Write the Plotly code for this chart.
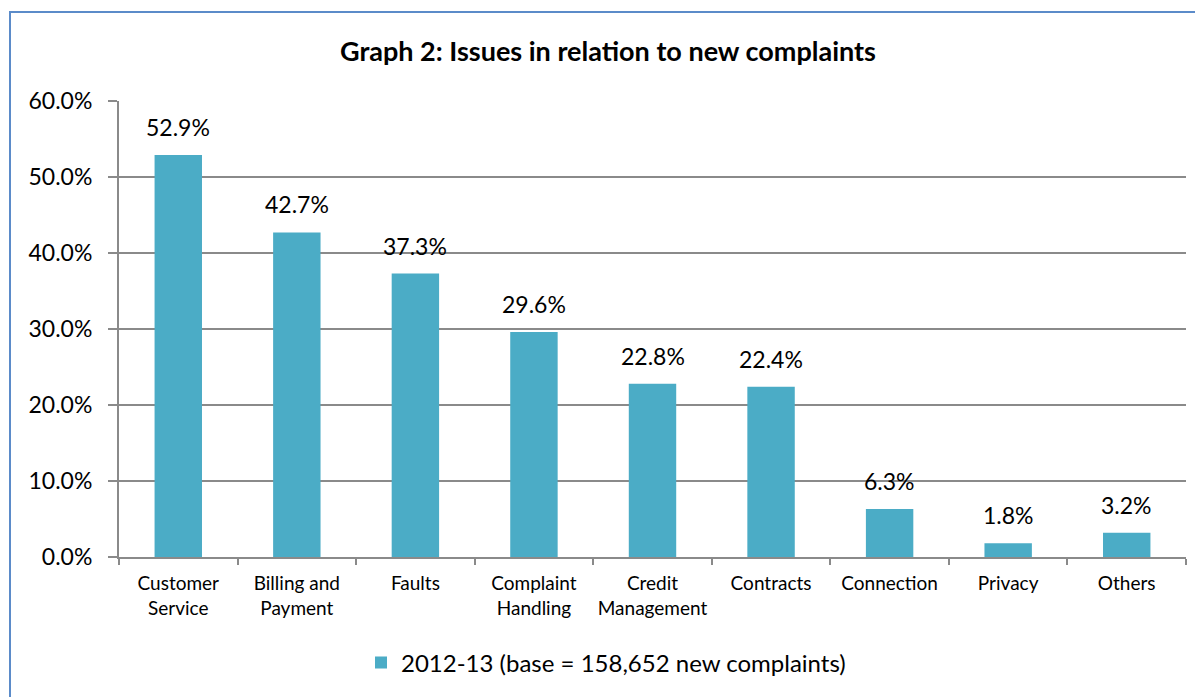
import plotly.graph_objects as go

categories = ["Customer<br>Service", "Billing and<br>Payment", "Faults", "Complaint<br>Handling",
              "Credit<br>Management", "Contracts", "Connection", "Privacy", "Others"]
values = [52.9, 42.7, 37.3, 29.6, 22.8, 22.4, 6.3, 1.8, 3.2]
series_name = "2012-13 (base = 158,652 new complaints)"
title_text = "<b>Graph 2: Issues in relation to new complaints</b>"
y_ticks = [0, 10, 20, 30, 40, 50, 60]

FONT = "Lato"
BAR = "#4BACC6"
GRID = "#8a8a8a"

# page is offset by 8px body margin
OFF = 8
PX0, PX1, PY0, PY1 = 119, 1186, 101, 557  # plot area in page coords
W, H = 1203 - OFF, 697 - OFF
L, T = PX0 - OFF, PY0 - OFF
R, B = 1203 - PX1, 697 - PY1
pw, ph = PX1 - PX0, PY1 - PY0


def px(x):
    return (x - PX0) / pw


def py(y):
    return (PY1 - y) / ph


fig = go.Figure()
fig.add_trace(go.Bar(x=categories, y=values, name=series_name, marker_color=BAR,
                     marker_line_width=0, showlegend=True))

for c, v in zip(categories, values):
    fig.add_annotation(x=c, y=v, text=f"{v:.1f}%", showarrow=False, yanchor="bottom",
                       yshift=12, font=dict(family=FONT, size=23, color="#000"))

fig.add_shape(type="rect", xref="paper", yref="paper",
              x0=px(10), x1=px(1215), y0=py(720), y1=py(12),
              line=dict(color="#5B8BC9", width=2), fillcolor="rgba(0,0,0,0)", layer="below")

fig.update_layout(
    width=W, height=H,
    margin=dict(l=L, r=R, t=T, b=B),
    paper_bgcolor="white", plot_bgcolor="white",
    font=dict(family=FONT, color="#000"),
    title=dict(text=title_text, x=(608 - OFF) / W, xanchor="center",
               y=1 - (52 - OFF) / H, yanchor="middle",
               font=dict(family=FONT, size=27, color="#000")),
    bargap=0.6,
    showlegend=True,
    legend=dict(orientation="h", x=px(361), xanchor="left", y=py(663), yanchor="middle",
                font=dict(family=FONT, size=24, color="#000")),
    xaxis=dict(showline=True, linecolor=GRID, linewidth=2, ticks="outside", tickson="boundaries",
               ticklen=6, tickcolor=GRID, tickwidth=2, ticklabelstandoff=8, tickangle=0,
               tickfont=dict(family=FONT, size=19, color="#000"), showgrid=False),
    yaxis=dict(range=[0, 60], tickvals=y_ticks, ticktext=[f"{t:.1f}%" for t in y_ticks],
               showline=True, linecolor=GRID, linewidth=2, ticks="outside", ticklen=9,
               tickcolor=GRID, tickwidth=2, showgrid=True, gridcolor=GRID, gridwidth=1.5,
               ticklabelstandoff=11,
               tickfont=dict(family=FONT, size=23, color="#000"), zeroline=False),
)

fig.write_html("out.html")
